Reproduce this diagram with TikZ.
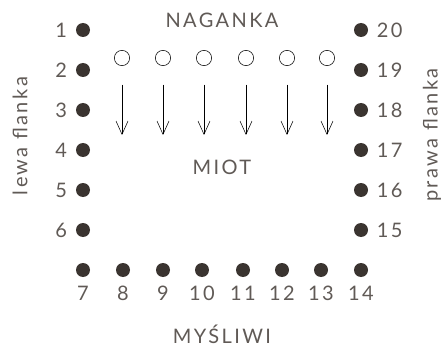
\documentclass[tikz,border=0pt]{standalone}
\usepackage{fontspec}
\setmainfont{Lato}[LetterSpace=12]
\usepackage{xcolor}
\usepackage{tikz}
\usetikzlibrary{arrows.meta}

\definecolor{punktfarbe}{HTML}{3A3430}
\definecolor{textfarbe}{HTML}{605A56}

\begin{document}
\begin{tikzpicture}[x=0.75pt, y=-0.75pt,
    every node/.style={font=\fontsize{15}{17}\selectfont, text=textfarbe},
    every label/.style={font=\fontsize{15}{17}\selectfont, text=textfarbe},
    label distance=3pt,
    mysliwy/.style={circle, fill=punktfarbe, minimum size=10.5pt, inner sep=0pt},
    naganiacz/.style={circle, draw=black, thin, minimum size=11.5pt, inner sep=0pt},
    pfeil/.style={-{Straight Barb[length=10pt, width=9pt]}, thin, black}]

    % Rahmen
    \useasboundingbox (0,0) rectangle (443,346);

    % Beschriftungen
    \node (naganka) at (222,28) [anchor=base] {NAGANKA};
    \node (miot) at (222,175) [anchor=base] {MIOT};
    \node (mysliwi) at (222,343) [anchor=base] {MYŚLIWI};
    \node (lewa) at (20,136) [rotate=90] {lewa flanka};
    \node (prawa) at (432,135) [rotate=90] {prawa flanka};

    % lewa flanka
    \node (s1) at (83,30) [label=left:1, mysliwy] {};
    \node (s2) at (83,70) [label=left:2, mysliwy] {};
    \node (s3) at (83,110) [label=left:3, mysliwy] {};
    \node (s4) at (83,150) [label=left:4, mysliwy] {};
    \node (s5) at (83,190) [label=left:5, mysliwy] {};
    \node (s6) at (83,230) [label=left:6, mysliwy] {};

    % Myśliwi unten
    \node (s7) at (83,270) [label=below:7, mysliwy] {};
    \node (s8) at (123,270) [label=below:8, mysliwy] {};
    \node (s9) at (163,270) [label=below:9, mysliwy] {};
    \node (s10) at (202,270) [label=below:10, mysliwy] {};
    \node (s11) at (243,270) [label=below:11, mysliwy] {};
    \node (s12) at (282,270) [label=below:12, mysliwy] {};
    \node (s13) at (321,270) [label=below:13, mysliwy] {};
    \node (s14) at (361,270) [label=below:14, mysliwy] {};

    % prawa flanka
    \node (s15) at (361,230) [label=right:15, mysliwy] {};
    \node (s16) at (361,190) [label=right:16, mysliwy] {};
    \node (s17) at (361,150) [label=right:17, mysliwy] {};
    \node (s18) at (361,110) [label=right:18, mysliwy] {};
    \node (s19) at (361,70) [label=right:19, mysliwy] {};
    \node (s20) at (361,30) [label=right:20, mysliwy] {};

    % Naganiacze
    \node (n1) at (122,58) [naganiacz] {};
    \node (n2) at (163,58) [naganiacz] {};
    \node (n3) at (204,58) [naganiacz] {};
    \node (n4) at (246,58) [naganiacz] {};
    \node (n5) at (287,58) [naganiacz] {};
    \node (n6) at (327,58) [naganiacz] {};

    % Kierunek pędzenia
    \coordinate (k1) at (122,135);
    \coordinate (k2) at (163,135);
    \coordinate (k3) at (204,135);
    \coordinate (k4) at (246,135);
    \coordinate (k5) at (287,135);
    \coordinate (k6) at (327,135);
    \draw[pfeil] ([yshift=-20pt]n1.center) -- (k1);
    \draw[pfeil] ([yshift=-20pt]n2.center) -- (k2);
    \draw[pfeil] ([yshift=-20pt]n3.center) -- (k3);
    \draw[pfeil] ([yshift=-20pt]n4.center) -- (k4);
    \draw[pfeil] ([yshift=-20pt]n5.center) -- (k5);
    \draw[pfeil] ([yshift=-20pt]n6.center) -- (k6);
\end{tikzpicture}
\end{document}
